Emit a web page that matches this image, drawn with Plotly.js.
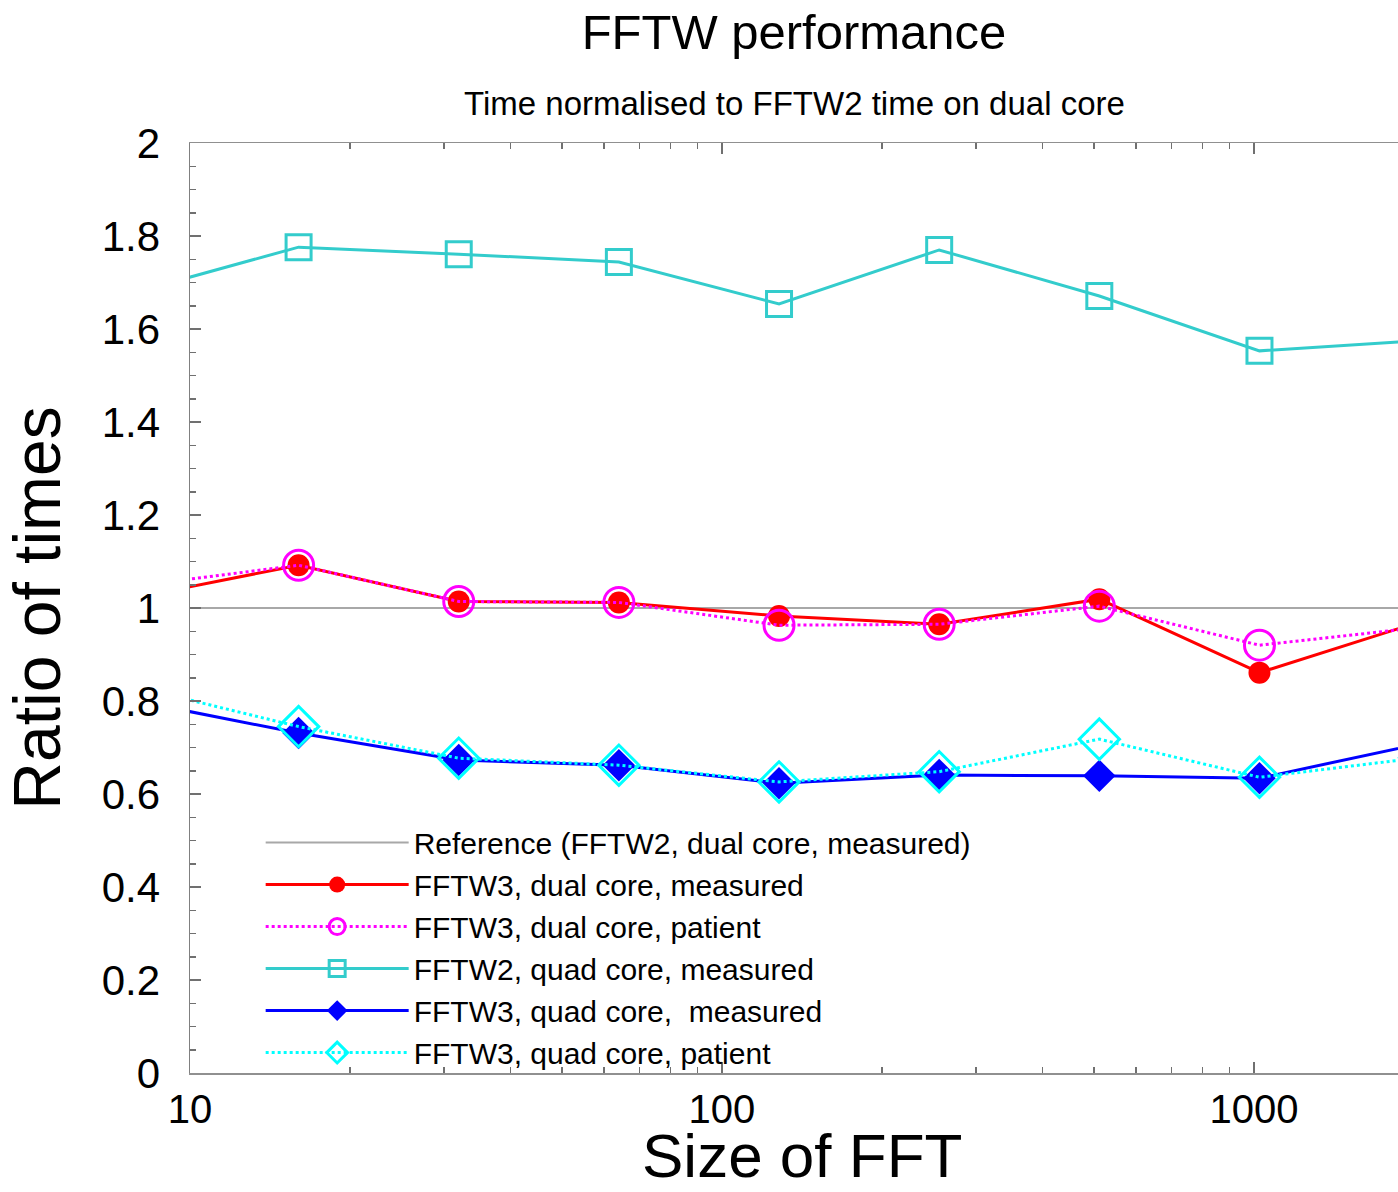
<!DOCTYPE html>
<html>
<head>
<meta charset="utf-8">
<script src="https://cdn.plot.ly/plotly-3.0.1.min.js"></script>
<style>html,body{margin:0;padding:0;background:#fff;}#chart{width:1398px;height:1192px;}</style>
</head>
<body>
<div id="chart"></div>
<script>
// FFT sizes (first and last points lie just outside the visible axis range)
const fftSizes = [8, 16, 32, 64, 128, 256, 512, 1024, 2048];
const referenceDual = [1, 1, 1, 1, 1, 1, 1, 1, 1];
const fftw3DualMeasured = [1.024, 1.092, 1.014, 1.012, 0.983, 0.965, 1.019, 0.861, 0.970];
const fftw3DualPatient  = [1.048, 1.092, 1.014, 1.012, 0.963, 0.965, 1.004, 0.920, 0.958];
const fftw2QuadMeasured = [1.681, 1.776, 1.761, 1.744, 1.654, 1.770, 1.671, 1.553, 1.575];
const fftw3QuadMeasured = [0.799, 0.731, 0.673, 0.662, 0.623, 0.641, 0.639, 0.634, 0.708];
const fftw3QuadPatient  = [0.829, 0.745, 0.677, 0.662, 0.626, 0.648, 0.718, 0.636, 0.678];

const seriesNames = [
  'Reference (FFTW2, dual core, measured)',
  'FFTW3, dual core, measured',
  'FFTW3, dual core, patient',
  'FFTW2, quad core, measured',
  'FFTW3, quad core,  measured',
  'FFTW3, quad core, patient'
];
const xTickVals = [10, 100, 1000];
const xTickText = ['10', '100', '1000'];
const xMinorVals = [20,30,40,50,60,70,80,90,200,300,400,500,600,700,800,900,2000];

const FONT = 'Liberation Sans, Arial, Helvetica, sans-serif';

const traces = [
  {x: fftSizes, y: referenceDual, name: seriesNames[0], mode: 'lines',
   line: {color: '#a8a8a8', width: 2}},
  {x: fftSizes, y: fftw3DualMeasured, name: seriesNames[1], mode: 'lines+markers',
   line: {color: '#ff0000', width: 3},
   marker: {symbol: 'circle', size: 22, color: '#ff0000'}},
  {x: fftSizes, y: fftw3DualPatient, name: seriesNames[2], mode: 'lines+markers',
   line: {color: '#ff00ff', width: 3, dash: 'dot'},
   marker: {symbol: 'circle-open', size: 30, color: '#ff00ff', line: {width: 3, color: '#ff00ff'}}},
  {x: fftSizes, y: fftw2QuadMeasured, name: seriesNames[3], mode: 'lines+markers',
   line: {color: '#33cccc', width: 3},
   marker: {symbol: 'square-open', size: 25, color: '#33cccc', line: {width: 3, color: '#33cccc'}}},
  {x: fftSizes, y: fftw3QuadMeasured, name: seriesNames[4], mode: 'lines+markers',
   line: {color: '#0000ff', width: 3},
   marker: {symbol: 'diamond', size: 25, color: '#0000ff'}},
  {x: fftSizes, y: fftw3QuadPatient, name: seriesNames[5], mode: 'lines+markers',
   line: {color: '#00ffff', width: 3, dash: 'dot'},
   marker: {symbol: 'diamond-open', size: 31, color: '#00ffff', line: {width: 3, color: '#00ffff'}}}
];

const layout = {
  width: 1398, height: 1192,
  margin: {l: 190, r: 0, t: 143, b: 119, pad: 0},
  paper_bgcolor: '#ffffff', plot_bgcolor: '#ffffff',
  font: {family: FONT, color: '#000'},
  title: {text: 'FFTW performance', font: {size: 49, family: FONT, color: '#000'},
          xref: 'paper', x: 0.5, xanchor: 'center', yref: 'container', y: 1 - 32/1192, yanchor: 'middle'},
  annotations: [
    {text: 'Time normalised to FFTW2 time on dual core', xref: 'paper', yref: 'paper',
     x: 0.5, y: 1 + (143 - 103)/930, xanchor: 'center', yanchor: 'middle', showarrow: false,
     font: {size: 33, family: FONT, color: '#000'}},
    {text: 'Size of FFT', xref: 'paper', yref: 'paper',
     x: 0.5066, y: -(1191 - 1073)/930, xanchor: 'center', yanchor: 'bottom', showarrow: false,
     borderpad: 0, font: {size: 62, family: FONT, color: '#000'}}
  ],
  xaxis: {
    type: 'log', range: [1, 3.2707], autorange: false,
    tickmode: 'array', tickvals: xTickVals, ticktext: xTickText,
    ticks: 'inside', ticklen: 11, tickwidth: 1.5, tickcolor: '#707070',
    minor: {tickmode: 'array', tickvals: xMinorVals, ticks: 'inside', ticklen: 6, tickwidth: 1.5, tickcolor: '#707070'},
    showline: true, linecolor: '#909090', linewidth: 1.5, mirror: 'ticks',
    showgrid: false, zeroline: false,
    tickfont: {size: 40, family: FONT, color: '#000'}, ticklabelstandoff: 0
  },
  yaxis: {
    range: [0, 2], autorange: false, dtick: 0.2, tick0: 0,
    ticks: 'inside', ticklen: 11, tickwidth: 1.5, tickcolor: '#707070',
    minor: {dtick: 0.05, ticks: 'inside', ticklen: 6, tickwidth: 1.5, tickcolor: '#707070'},
    showline: true, linecolor: '#808080', linewidth: 1.5,
    showgrid: false, zeroline: false,
    tickfont: {size: 42, family: FONT, color: '#000'}, ticklabelstandoff: 20,
    title: {text: 'Ratio of times', font: {size: 66, family: FONT, color: '#000'}, standoff: 22}
  },
  legend: {x: 0.0585, xanchor: 'left', y: -0.006, yanchor: 'bottom', bgcolor: 'rgba(0,0,0,0)',
           font: {size: 30, family: FONT, color: '#000'}, itemwidth: 143, tracegroupgap: 0},
  showlegend: true
};

Plotly.newPlot('chart', traces, layout, {staticPlot: true, displayModeBar: false});
</script>
</body>
</html>
